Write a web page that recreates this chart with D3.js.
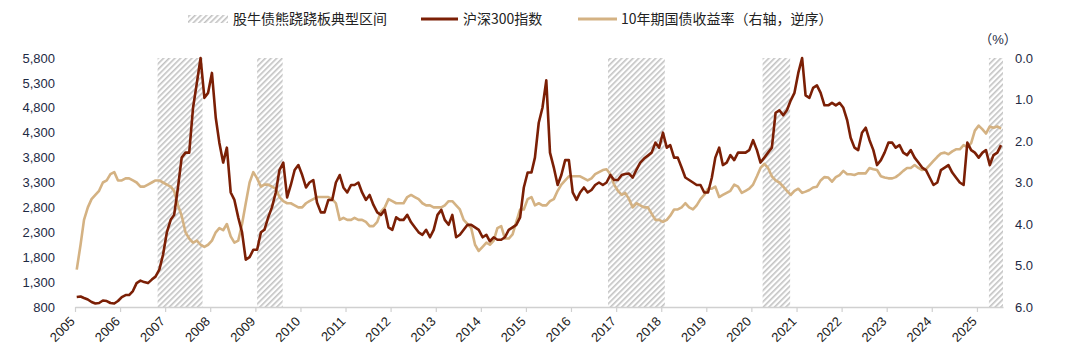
<!DOCTYPE html>
<html>
<head>
<meta charset="utf-8">
<script src="https://cdn.jsdelivr.net/npm/d3@7"></script>
<style>
  html, body { margin: 0; padding: 0; background: #fff; }
  svg { display: block; }
  text { font-family: Arial, "Liberation Sans", "Noto Sans CJK SC", sans-serif; }
</style>
</head>
<body>
<svg id="chart" width="1080" height="360"></svg>
<script>
// ---------------- DATA ----------------
const startMonth = "2005-01";             // first monthly observation
const yearLabels = ["2005","2006","2007","2008","2009","2010","2011","2012","2013","2014","2015",
                    "2016","2017","2018","2019","2020","2021","2022","2023","2024","2025"];
const leftTicks  = [800,1300,1800,2300,2800,3300,3800,4300,4800,5300,5800];
const rightTicks = [0,1,2,3,4,5,6];

// 沪深300指数 (monthly, 2005-01 .. 2025-07)
const csi300 = [
  1000,1010,980,950,900,870,880,930,920,880,870,920,            // 2005
  1000,1040,1040,1120,1280,1330,1300,1280,1350,1410,1550,1850,  // 2006
  2300,2550,2650,3200,3800,3900,3900,4800,5300,5800,5000,5100,  // 2007
  5500,4600,4100,3700,4000,3100,2950,2600,2300,1750,1800,1950,  // 2008
  1950,2300,2350,2600,2800,3100,3550,3700,3000,3250,3550,3650,  // 2009
  3450,3200,3300,3350,2900,2700,2700,2950,2950,3300,3450,3200,  // 2010
  3100,3250,3250,3300,3100,2950,3050,2850,2700,2650,2750,2400,  // 2011
  2350,2600,2550,2550,2650,2500,2400,2300,2250,2350,2200,2350,  // 2012
  2650,2750,2550,2450,2650,2200,2250,2350,2450,2450,2400,2350,  // 2013
  2200,2250,2120,2200,2150,2150,2200,2350,2400,2450,2600,3200,  // 2014
  3500,3500,3800,4500,4800,5350,3900,3600,3250,3450,3750,3750,  // 2015
  3100,2950,3100,3200,3100,3150,3250,3300,3250,3300,3450,3350,  // 2016
  3350,3450,3470,3480,3400,3560,3700,3780,3840,3900,4100,4000,  // 2017
  4300,4000,4050,3800,3800,3600,3400,3350,3300,3250,3250,3100,  // 2018
  3100,3400,3800,4000,3650,3700,3850,3750,3900,3900,3900,3950,  // 2019
  4150,3950,3700,3800,3900,4000,4700,4750,4650,4750,4950,5100,  // 2020
  5500,5800,5050,5000,5200,5250,5100,4850,4850,4900,4850,4900,  // 2021
  4800,4550,4200,4000,3950,4300,4400,4150,3950,3650,3750,3900,  // 2022
  4100,4100,4000,4050,3900,3850,3950,3800,3700,3600,3550,3400,  // 2023
  3250,3300,3550,3600,3650,3500,3400,3300,3250,4100,3950,3900,  // 2024
  3800,3900,3950,3650,3850,3900,4050                             // 2025
];

// 10年期国债收益率 (%) (monthly, 2005-01 .. 2025-07), plotted on reversed right axis
const cgb10y = [
  5.1,4.5,3.9,3.6,3.4,3.3,3.2,3.0,2.95,2.8,2.75,2.95,           // 2005
  2.95,2.9,2.9,2.95,3.0,3.1,3.1,3.05,3.0,2.95,2.95,3.0,         // 2006
  3.05,3.1,3.2,3.55,3.8,4.2,4.35,4.45,4.4,4.5,4.55,4.5,         // 2007
  4.4,4.2,4.1,4.15,4.0,4.3,4.45,4.4,4.0,3.5,3.0,2.75,           // 2008
  2.9,3.1,3.05,3.05,3.1,3.15,3.35,3.45,3.5,3.5,3.55,3.6,        // 2009
  3.6,3.5,3.45,3.4,3.35,3.35,3.35,3.35,3.4,3.5,3.9,3.85,        // 2010
  3.9,3.9,3.85,3.9,3.9,3.95,4.05,4.05,3.95,3.7,3.6,3.4,         // 2011
  3.45,3.5,3.5,3.5,3.35,3.3,3.35,3.4,3.5,3.55,3.55,3.6,         // 2012
  3.6,3.6,3.55,3.45,3.45,3.55,3.65,3.9,4.0,4.1,4.5,4.65,        // 2013
  4.55,4.45,4.5,4.4,4.1,4.05,4.35,4.35,4.25,3.95,3.65,3.65,     // 2014
  3.4,3.35,3.55,3.5,3.55,3.55,3.45,3.4,3.2,3.05,2.95,2.85,      // 2015
  2.85,2.85,2.85,2.9,2.95,2.9,2.8,2.75,2.7,2.68,2.8,3.05,       // 2016
  3.2,3.3,3.25,3.4,3.6,3.5,3.55,3.6,3.6,3.75,3.9,3.9,           // 2017
  3.95,3.9,3.8,3.65,3.65,3.6,3.5,3.6,3.65,3.55,3.4,3.3,         // 2018
  3.15,3.15,3.1,3.35,3.3,3.25,3.2,3.05,3.1,3.25,3.2,3.15,       // 2019
  3.05,2.85,2.65,2.55,2.65,2.85,2.95,3.0,3.1,3.2,3.3,3.2,       // 2020
  3.15,3.25,3.22,3.18,3.12,3.1,2.95,2.87,2.88,2.98,2.87,2.82,   // 2021
  2.72,2.8,2.8,2.82,2.78,2.78,2.78,2.65,2.68,2.7,2.85,2.88,     // 2022
  2.9,2.9,2.87,2.8,2.72,2.65,2.65,2.58,2.65,2.7,2.68,2.58,      // 2023
  2.48,2.38,2.3,2.28,2.32,2.25,2.2,2.2,2.1,2.15,2.05,1.75,      // 2024
  1.63,1.72,1.82,1.65,1.68,1.65,1.7                              // 2025
];

// 股牛债熊跷跷板典型区间
const seesawStart = ["2006-11-01","2009-01-15","2016-10-27","2020-04-01","2025-04-08"];
const seesawEnd   = ["2007-10-31","2009-08-10","2018-01-30","2020-11-10","2025-07-31"];

const seriesNames = ["股牛债熊跷跷板典型区间", "沪深300指数", "10年期国债收益率（右轴，逆序）"];

// ---------------- CHART ----------------
const svg = d3.select("#chart");
const parse = d3.timeParse("%Y-%m-%d");
const parseM = d3.timeParse("%Y-%m");
const m0 = parseM(startMonth);
const monthDate = i => { const d = d3.timeMonth.offset(m0, i); d.setDate(15); return d; };

const plot = { left: 75, right: 1003, top: 58, bottom: 307 };
const x = d3.scaleTime()
  .domain([parse("2005-01-01"), parse("2025-07-31")])
  .range([plot.left, plot.right]);
const yL = d3.scaleLinear().domain([800, 5800]).range([plot.bottom, plot.top]);
const yR = d3.scaleLinear().domain([0, 6]).range([plot.top, plot.bottom]);

const colRed = "#7b1f05", colTan = "#d4b283", hatchCol = "#c2c2c2";

// hatch pattern
const defs = svg.append("defs");
defs.append("pattern")
  .attr("id", "hatch").attr("patternUnits", "userSpaceOnUse")
  .attr("width", 4).attr("height", 4)
  .attr("patternTransform", "rotate(45)")
  .append("rect").attr("x", 0).attr("y", 0).attr("width", 1.6).attr("height", 4)
  .attr("fill", hatchCol);

// hatched periods
svg.append("g").selectAll("rect")
  .data(seesawStart.map((s, i) => [parse(s), parse(seesawEnd[i])]))
  .join("rect")
  .attr("x", d => x(d[0]))
  .attr("width", d => x(d[1]) - x(d[0]))
  .attr("y", yL(5800))
  .attr("height", yL(800) - yL(5800))
  .attr("fill", "url(#hatch)");

// x axis
const yearDates = yearLabels.map(y => parse(y + "-01-01"));
const gx = svg.append("g").attr("transform", `translate(0,${plot.bottom})`)
  .call(d3.axisBottom(x).tickValues(yearDates).tickSize(5).tickSizeOuter(0)
        .tickFormat((d, i) => yearLabels[i]));
gx.select(".domain").attr("stroke", "#d0d0d0").attr("stroke-width", 1.5);
gx.selectAll(".tick line").attr("stroke", "#d0d0d0").attr("stroke-width", 1.2);
gx.selectAll(".tick text")
  .attr("font-size", 13).attr("fill", "#222")
  .attr("text-anchor", "end")
  .attr("dy", "0.35em").attr("y", 0)
  .attr("transform", "translate(-3,12) rotate(-45)");

// left axis
const gl = svg.append("g").attr("transform", `translate(${plot.left},0)`)
  .call(d3.axisLeft(yL).tickValues(leftTicks).tickSize(0).tickPadding(20)
        .tickFormat(d3.format(",")));
gl.select(".domain").remove();
gl.selectAll(".tick text").attr("font-size", 13).attr("fill", "#1e2a44");

// right axis
const gr = svg.append("g").attr("transform", `translate(${plot.right},0)`)
  .call(d3.axisRight(yR).tickValues(rightTicks).tickSize(0).tickPadding(12)
        .tickFormat(d3.format(".1f")));
gr.select(".domain").remove();
gr.selectAll(".tick text").attr("font-size", 13).attr("fill", "#1e2a44");

svg.append("text").attr("x", 998).attr("y", 44).attr("text-anchor", "middle")
  .attr("font-size", 13).attr("fill", "#1e2a44").text("（%）");

// lines
const lineL = d3.line().x((d, i) => x(monthDate(i))).y(d => yL(d)).curve(d3.curveLinear);
const lineR = d3.line().x((d, i) => x(monthDate(i))).y(d => yR(d)).curve(d3.curveLinear);

svg.append("path").datum(cgb10y).attr("d", lineR)
  .attr("fill", "none").attr("stroke", colTan).attr("stroke-width", 2.6)
  .attr("stroke-linejoin", "round");
svg.append("path").datum(csi300).attr("d", lineL)
  .attr("fill", "none").attr("stroke", colRed).attr("stroke-width", 2.6)
  .attr("stroke-linejoin", "round");

// legend
const lg = svg.append("g").attr("font-size", 14).attr("fill", "#222");
lg.append("rect").attr("x", 188).attr("y", 15).attr("width", 40).attr("height", 8)
  .attr("fill", "url(#hatch)");
lg.append("text").attr("x", 233).attr("y", 19).attr("dy", "0.35em")
  .style("font-family", "'Noto Sans CJK SC', sans-serif").text(seriesNames[0]);
lg.append("line").attr("x1", 421).attr("x2", 458).attr("y1", 19).attr("y2", 19)
  .attr("stroke", colRed).attr("stroke-width", 3);
lg.append("text").attr("x", 463).attr("y", 19).attr("dy", "0.35em")
  .style("font-family", "'Noto Sans CJK SC', sans-serif").text(seriesNames[1]);
lg.append("line").attr("x1", 578).attr("x2", 617).attr("y1", 19).attr("y2", 19)
  .attr("stroke", colTan).attr("stroke-width", 3);
lg.append("text").attr("x", 621).attr("y", 19).attr("dy", "0.35em")
  .style("font-family", "'Noto Sans CJK SC', sans-serif").text(seriesNames[2]);
</script>
</body>
</html>
